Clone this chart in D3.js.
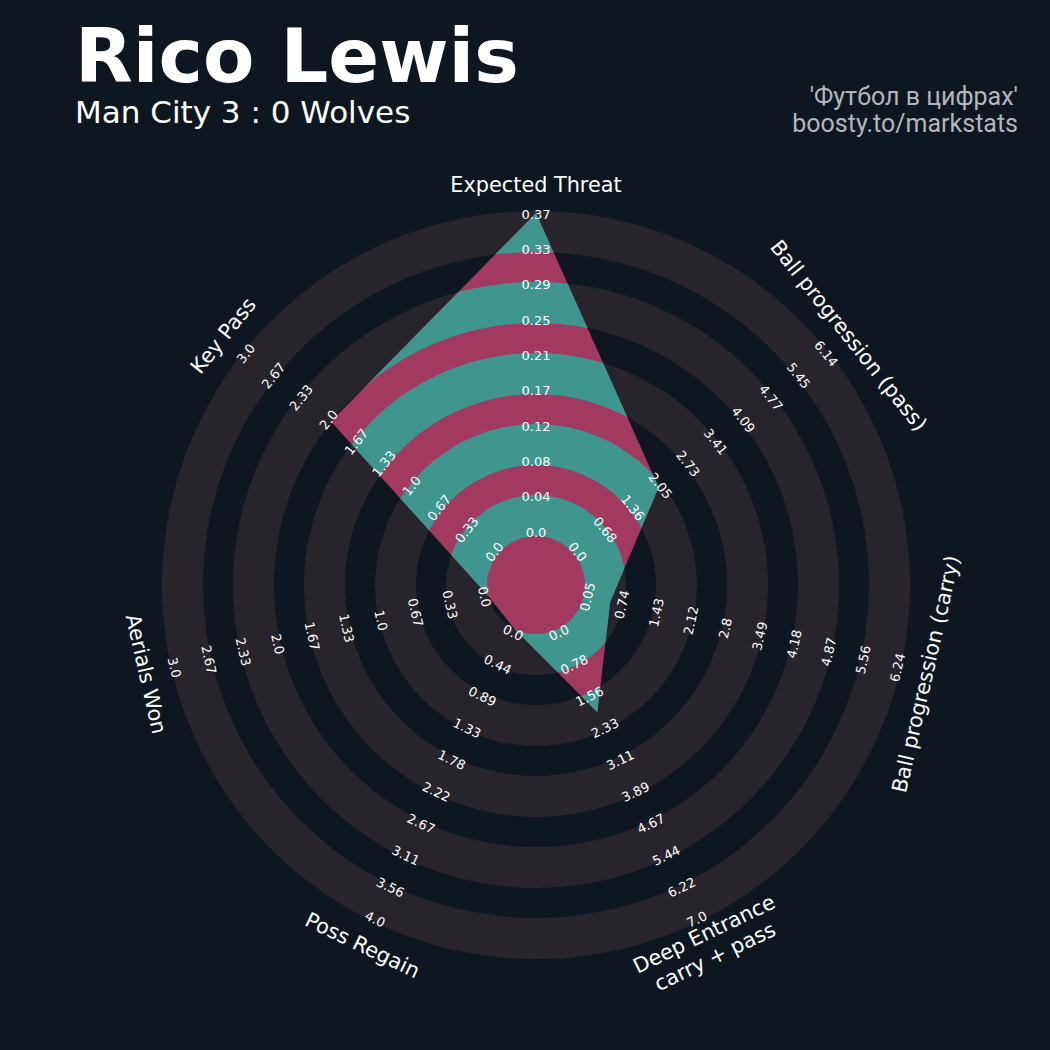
<!DOCTYPE html>
<html><head><meta charset="utf-8">
<script src="https://cdn.jsdelivr.net/npm/d3@7"></script>
<style>html,body{margin:0;padding:0;background:#0e1720;} svg{display:block}</style>
</head><body>
<script>
// ---------- data ----------
const params = ["Expected Threat", "Ball progression (pass)", "Ball progression (carry)",
                "Deep Entrance\ncarry + pass", "Poss Regain", "Aerials Won", "Key Pass"];
const minRange = [0.0, 0.0, 0.05, 0.0, 0.0, 0.0, 0.0];
const maxRange = [0.37, 6.14, 6.24, 7.0, 4.0, 3.0, 3.0];
const values   = [0.37, 2.05, 0.57, 2.0, 0.0, 0.0, 1.98];
const tickLabels = [
  ["0.0","0.04","0.08","0.12","0.17","0.21","0.25","0.29","0.33","0.37"],
  ["0.0","0.68","1.36","2.05","2.73","3.41","4.09","4.77","5.45","6.14"],
  ["0.05","0.74","1.43","2.12","2.8","3.49","4.18","4.87","5.56","6.24"],
  ["0.0","0.78","1.56","2.33","3.11","3.89","4.67","5.44","6.22","7.0"],
  ["0.0","0.44","0.89","1.33","1.78","2.22","2.67","3.11","3.56","4.0"],
  ["0.0","0.33","0.67","1.0","1.33","1.67","2.0","2.33","2.67","3.0"],
  ["0.0","0.33","0.67","1.0","1.33","1.67","2.0","2.33","2.67","3.0"]
];
const titleText = "Rico Lewis";
const subtitleText = "Man City 3 : 0 Wolves";
const creditLines = ["'Футбол в цифрах'", "boosty.to/markstats"];

// ---------- layout ----------
const W = 1050, H = 1050;
const cx = 536, cy = 585;
const R0 = 49, R1 = 372;
const bg = "#0e1720", ringColor = "#28242b", teal = "#3e968e", pink = "#a23a60";

const svg = d3.select("body").append("svg").attr("width", W).attr("height", H);
svg.append("rect").attr("width", W).attr("height", H).attr("fill", bg);

const n = params.length;
const angleDeg = i => { let a = 90 - i * 360 / n; if (a <= -180) a += 360; return a; };
const rot = a => a >= 0 ? 90 - a : -(a + 90);
const pt = (i, r) => { const a = angleDeg(i) * Math.PI / 180; return [cx + r * Math.cos(a), cy - r * Math.sin(a)]; };
const rScales = params.map((p, i) => d3.scaleLinear().domain([minRange[i], maxRange[i]]).range([R0, R1]));

// ring bands (gray rings outside / teal inside polygon)
const grayW = 41, gapW = 30;
const bands = [];
{ let r = R0; for (let k = 0; k < 5; k++) { bands.push([r, r + grayW]); r += grayW + gapW; } }
const arc = d3.arc().startAngle(0).endAngle(2 * Math.PI);

const g = svg.append("g").attr("transform", `translate(${cx},${cy})`);
g.selectAll("path.ring").data(bands).join("path").attr("class", "ring")
  .attr("d", d => arc({innerRadius: d[0], outerRadius: d[1]})).attr("fill", ringColor);

// radar polygon
const polyPts = values.map((v, i) => pt(i, rScales[i](v)));
const polyStr = polyPts.map(p => p.join(",")).join(" ");
svg.append("clipPath").attr("id", "radarClip").append("polygon").attr("points", polyStr);
svg.append("polygon").attr("points", polyStr).attr("fill", pink);
svg.append("g").attr("clip-path", "url(#radarClip)")
  .append("g").attr("transform", `translate(${cx},${cy})`)
  .selectAll("path").data(bands).join("path")
  .attr("d", d => arc({innerRadius: d[0], outerRadius: d[1]})).attr("fill", teal);

// range labels
const L0 = 53, L1 = 371;
params.forEach((p, i) => {
  const a = angleDeg(i);
  const lab = d3.scaleLinear().domain([0, tickLabels[i].length - 1]).range([L0, L1]);
  tickLabels[i].forEach((t, k) => {
    const [x, y] = pt(i, lab(k));
    svg.append("text").attr("x", x).attr("y", y)
      .attr("transform", `rotate(${rot(a)},${x},${y})`)
      .attr("text-anchor", "middle").attr("dominant-baseline", "central")
      .attr("font-family", "DejaVu Sans").attr("font-size", 13).attr("fill", "#ffffff")
      .text(t);
  });
});

// parameter labels
params.forEach((p, i) => {
  const a = angleDeg(i);
  const [x, y] = pt(i, 400);
  const lines = p.split("\n");
  const lh = 25;
  const txt = svg.append("text").attr("transform", `translate(${x},${y}) rotate(${rot(a)})`)
    .attr("text-anchor", "middle").attr("dominant-baseline", "central")
    .attr("font-family", "DejaVu Sans").attr("font-size", 20.8).attr("fill", "#ffffff");
  lines.forEach((l, k) => {
    txt.append("tspan").attr("x", 0).attr("y", (k - (lines.length - 1) / 2) * lh).text(l);
  });
});

// titles
svg.append("text").attr("x", 75).attr("y", 82).attr("font-family", "DejaVu Sans")
  .attr("font-weight", "bold").attr("font-size", 75).attr("fill", "#ffffff").text(titleText);
svg.append("text").attr("x", 75).attr("y", 123).attr("font-family", "DejaVu Sans")
  .attr("font-size", 31).attr("fill", "#ffffff").text(subtitleText);
creditLines.forEach((l, k) => {
  svg.append("text").attr("x", 1018).attr("y", 105 + k * 27).attr("text-anchor", "end")
    .attr("font-family", "Roboto").attr("font-size", 25).attr("fill", "#b3b6ba").text(l);
});
</script>
</body></html>
